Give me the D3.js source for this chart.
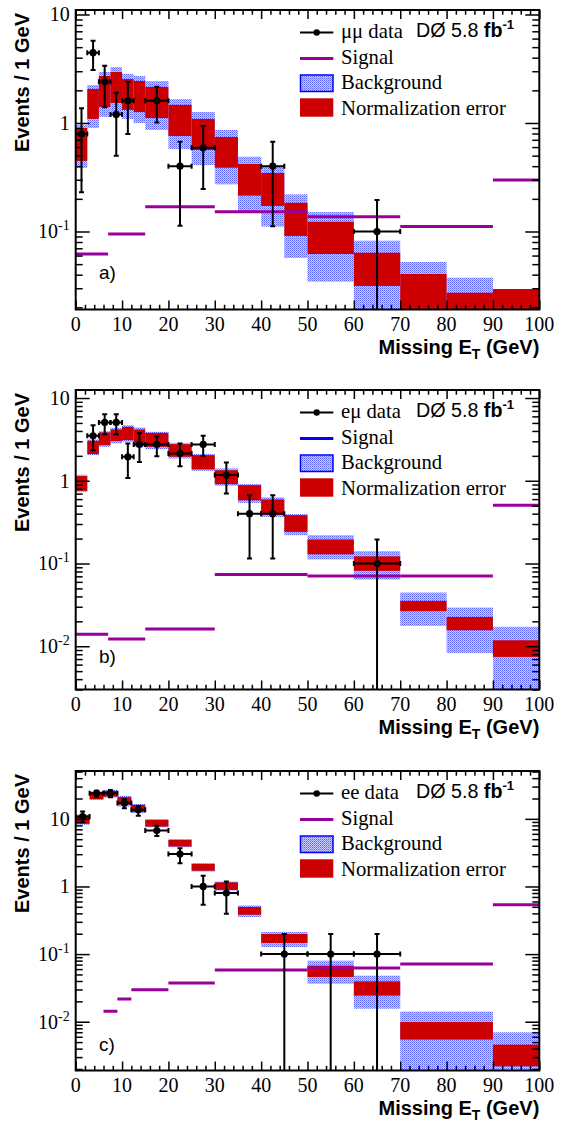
<!DOCTYPE html>
<html><head><meta charset="utf-8">
<script src="https://cdn.jsdelivr.net/npm/d3@7"></script>
<style>body{margin:0;background:#fff} svg{display:block}</style>
</head><body><svg id="chart" width="562" height="1123"></svg>
<script>
// ================= DATA =================
const xTickLabels = [0,10,20,30,40,50,60,70,80,90,100];
const panelLabels = ["a)", "b)", "c)"];
const dataLabels = ["\u03bc\u03bc data", "e\u03bc data", "ee data"];
const lumiText = ["D\u00d8 5.8 ", "fb", "-1"];

// panel a : mu mu
const yRangeA = [0.0191, 11];
const bgEdgesA = [0,2.5,5,7.5,10,12.5,15,20,25,30,35,40,45,50,60,70,80,90,100];
const bgHiA   = [0.958,2.24,2.95,3.28,2.83,2.71,2.44,1.66,1.26,0.862,0.489,0.396,0.22,0.151,0.0823,0.0524,0.0375,0.028];
const bgLoA   = [0.385,0.90,1.14,1.18,1.09,1.00,0.862,0.576,0.41,0.272,0.148,0.111,0.057,0.0345,0.001,0.001,0.001,0.001];
const normHiA = [0.90,2.06,2.71,2.95,2.54,2.44,2.15,1.47,1.09,0.743,0.419,0.346,0.184,0.123,0.0638,0.0406,0.0273,0.0295];
const normLoA = [0.447,1.09,1.40,1.53,1.32,1.26,1.11,0.759,0.564,0.387,0.214,0.172,0.091,0.062,0.0315,0.001,0.001,0.001];
const dataXLoA = [0,2.5,5,7.5,10,15,20,25,40,60];
const dataXHiA = [2.5,5,7.5,10,12.5,20,25,30,45,70];
const dataYA   = [0.79,4.45,2.40,1.20,1.60,1.60,0.40,0.59,0.40,0.10];
const dataHiA  = [1.37,5.74,3.37,1.90,2.40,2.16,0.67,0.94,0.67,0.195];
const dataLoA  = [0.23,3.08,1.40,0.50,0.79,1.01,0.113,0.246,0.112,0.0001];
const sigEdgesA = [0,7,15,30,50,70,90,100];
const sigA      = [0.062,0.095,0.169,0.152,0.137,0.111,0.298];

// panel b : e mu
const yRangeB = [0.003, 12.5];
const bgEdgesB = [0,2.5,5,7.5,10,12.5,15,20,25,30,35,40,45,50,60,70,80,90,100];
const bgHiB   = [1.18,3.16,3.98,4.36,4.70,4.40,3.90,2.87,2.10,1.41,0.91,0.63,0.395,0.22,0.141,0.0446,0.0294,0.0172];
const bgLoB   = [0.73,2.04,2.57,2.83,2.95,2.55,2.41,1.86,1.32,0.87,0.54,0.366,0.22,0.112,0.064,0.0176,0.0083,0.0001];
const normHiB = [1.14,3.04,3.84,4.17,4.49,4.17,3.79,2.77,2.04,1.34,0.885,0.594,0.384,0.195,0.122,0.0353,0.0226,0.0118];
const normLoB = [0.755,2.10,2.69,3.01,3.10,2.69,2.57,1.95,1.37,0.91,0.58,0.391,0.241,0.129,0.0814,0.0265,0.0156,0.00743];
const dataXLoB = [2.5,5,7.5,10,12.5,15,20,25,30,35,40,60];
const dataXHiB = [5,7.5,10,12.5,15,20,25,30,35,40,45,70];
const dataYB   = [3.49,5.07,5.07,1.95,2.75,2.75,2.14,2.75,1.17,0.40,0.40,0.10];
const dataHiB  = [4.70,6.38,6.38,2.83,3.79,3.46,2.83,3.49,1.66,0.67,0.67,0.195];
const dataLoB  = [2.34,3.66,3.66,1.08,1.69,1.98,1.50,1.98,0.70,0.115,0.115,0.0001];
const sigEdgesB = [0,7,15,30,50,70,90,100];
const sigB      = [0.014,0.0122,0.0162,0.0736,0.0708,0.0708,0.507];

// panel c : e e
const yRangeC = [0.0019, 51];
const bgEdgesC = [0,3,6,9,12,15,20,25,30,35,40,50,60,70,90,100];
const bgHiC   = [11.5,25.5,26.8,21.9,16.6,9.9,5.0,2.22,1.18,0.524,0.212,0.080,0.048,0.0141,0.00697];
const bgLoC   = [8.2,19.0,20.6,15.2,12.2,7.5,3.82,1.66,0.87,0.353,0.127,0.0365,0.0156,0.0005,0.0005];
const normHiC = [11.2,24.8,25.9,21.0,16.1,9.67,4.90,2.16,1.15,0.497,0.198,0.0674,0.0395,0.0099,0.00459];
const normLoC = [8.44,19.5,21.3,16.1,12.6,7.69,3.90,1.71,0.89,0.382,0.146,0.0459,0.0243,0.00544,0.00219];
const dataXLoC = [0,3,6,9,12,15,20,25,30,40,50,60];
const dataXHiC = [3,6,9,12,15,20,25,30,35,50,60,70];
const dataYC   = [10.8,24.0,24.0,17.1,13.6,6.71,3.01,1.0,0.80,0.1,0.1,0.1];
const dataHiC  = [12.8,26.1,26.8,19.5,15.5,7.9,3.69,1.44,1.18,0.198,0.198,0.198];
const dataLoC  = [8.9,21.3,20.8,14.4,11.1,5.6,2.21,0.537,0.395,0.0001,0.0001,0.0001];
const sigEdgesC = [6,9,12,20,30,50,70,90,100];
const sigC      = [0.0143,0.0217,0.0298,0.0374,0.0582,0.0623,0.0714,0.537];

// ================= LAYOUT / STYLE =================
const RED = "#cc0000", PURPLE = "#990099", BLUE = "#0000ff";
const SERIF = "Liberation Serif";
const SANS = "Liberation Sans";
const plotL = 75.7, plotR = 539.3;
const panels = [
  {top:10,  bottom:309.5, yr:yRangeA, bgE:bgEdgesA, bgHi:bgHiA, bgLo:bgLoA, nHi:normHiA, nLo:normLoA,
   dxl:dataXLoA, dxh:dataXHiA, dy:dataYA, dhi:dataHiA, dlo:dataLoA, sE:sigEdgesA, s:sigA, sigLeg:PURPLE, labOff:30.2},
  {top:390, bottom:689.5, yr:yRangeB, bgE:bgEdgesB, bgHi:bgHiB, bgLo:bgLoB, nHi:normHiB, nLo:normLoB,
   dxl:dataXLoB, dxh:dataXHiB, dy:dataYB, dhi:dataHiB, dlo:dataLoB, sE:sigEdgesB, s:sigB, sigLeg:BLUE, labOff:26.8},
  {top:771, bottom:1070.5, yr:yRangeC, bgE:bgEdgesC, bgHi:bgHiC, bgLo:bgLoC, nHi:normHiC, nLo:normLoC,
   dxl:dataXLoC, dxh:dataXHiC, dy:dataYC, dhi:dataHiC, dlo:dataLoC, sE:sigEdgesC, s:sigC, sigLeg:PURPLE, labOff:19.5}
];

const svg = d3.select("#chart");
const defs = svg.append("defs");
const pat = defs.append("pattern").attr("id","bgpat").attr("patternUnits","userSpaceOnUse")
  .attr("width",2).attr("height",2);
pat.append("rect").attr("width",2).attr("height",2).attr("fill","#c9ccff");
pat.append("rect").attr("width",1).attr("height",1).attr("fill","#5b63ff");
pat.append("rect").attr("x",1).attr("y",1).attr("width",1).attr("height",1).attr("fill","#8a90ff");

const x = d3.scaleLinear().domain([0,100]).range([plotL, plotR]);

panels.forEach((p, pi) => {
  const y = d3.scaleLog().domain(p.yr).range([p.bottom, p.top]);
  const g = svg.append("g");
  const cid = "clip"+pi;
  defs.append("clipPath").attr("id",cid).append("rect")
    .attr("x",plotL).attr("y",p.top).attr("width",plotR-plotL).attr("height",p.bottom-p.top);
  const cg = g.append("g").attr("clip-path",`url(#${cid})`);
  const yc = v => y(Math.max(v, p.yr[0]*0.1));

  const bins = d3.range(p.bgHi.length);
  cg.selectAll("rect.bg").data(bins).join("rect").attr("class","bg")
    .attr("x", i => x(p.bgE[i])).attr("width", i => x(p.bgE[i+1]) - x(p.bgE[i]))
    .attr("y", i => yc(p.bgHi[i])).attr("height", i => yc(p.bgLo[i]) - yc(p.bgHi[i]))
    .attr("fill","url(#bgpat)");
  cg.selectAll("rect.nm").data(bins).join("rect").attr("class","nm")
    .attr("x", i => x(p.bgE[i])).attr("width", i => x(p.bgE[i+1]) - x(p.bgE[i]))
    .attr("y", i => yc(p.nHi[i])).attr("height", i => yc(p.nLo[i]) - yc(p.nHi[i]))
    .attr("fill",RED);
  cg.selectAll("line.sig").data(d3.range(p.s.length)).join("line").attr("class","sig")
    .attr("x1", i => x(p.sE[i])).attr("x2", i => x(p.sE[i+1]))
    .attr("y1", i => y(p.s[i])).attr("y2", i => y(p.s[i]))
    .attr("stroke",PURPLE).attr("stroke-width",3);
  const di = d3.range(p.dy.length);
  const dg = cg.append("g").attr("stroke","#000").attr("stroke-width",2);
  const cx = i => x((p.dxl[i]+p.dxh[i])/2);
  dg.selectAll("line.ev").data(di).join("line")
    .attr("x1",cx).attr("x2",cx).attr("y1",i=>yc(p.dhi[i])).attr("y2",i=>yc(p.dlo[i]));
  dg.selectAll("line.eh").data(di).join("line")
    .attr("x1",i=>x(p.dxl[i])).attr("x2",i=>x(p.dxh[i])).attr("y1",i=>y(p.dy[i])).attr("y2",i=>y(p.dy[i]));
  const cap = 2.5;
  dg.selectAll("line.ct").data(di).join("line")
    .attr("x1",i=>cx(i)-cap).attr("x2",i=>cx(i)+cap).attr("y1",i=>yc(p.dhi[i])).attr("y2",i=>yc(p.dhi[i]));
  dg.selectAll("line.cb").data(di).join("line")
    .attr("x1",i=>cx(i)-cap).attr("x2",i=>cx(i)+cap).attr("y1",i=>yc(p.dlo[i])).attr("y2",i=>yc(p.dlo[i]));
  dg.selectAll("line.cl").data(di).join("line")
    .attr("x1",i=>x(p.dxl[i])).attr("x2",i=>x(p.dxl[i])).attr("y1",i=>y(p.dy[i])-cap).attr("y2",i=>y(p.dy[i])+cap);
  dg.selectAll("line.cr").data(di).join("line")
    .attr("x1",i=>x(p.dxh[i])).attr("x2",i=>x(p.dxh[i])).attr("y1",i=>y(p.dy[i])-cap).attr("y2",i=>y(p.dy[i])+cap);
  cg.selectAll("circle.pt").data(di).join("circle")
    .attr("cx",cx).attr("cy",i=>y(p.dy[i])).attr("r",3.6).attr("fill","#000");

  // ---- axes (d3 axes draw ticks; labels added as serif text from the same scales) ----
  const xMinor = d3.range(0,101,2).filter(v => v % 10 !== 0);
  const lo = Math.floor(Math.log10(p.yr[0])), hi = Math.ceil(Math.log10(p.yr[1]));
  const yMajor = d3.range(lo, hi+1).map(e => Math.pow(10,e)).filter(v => v>=p.yr[0] && v<=p.yr[1]);
  const yMinor = [];
  d3.range(lo, hi+1).forEach(e => d3.range(2,10).forEach(k => { const v = k*Math.pow(10,e); if (v>=p.yr[0] && v<=p.yr[1]) yMinor.push(v); }));
  const clean = s => s.call(a => a.select(".domain").remove())
      .selectAll("line").attr("stroke-width",1.5);
  const addAxis = (axis, tr) => g.append("g").attr("transform",tr).call(axis.tickFormat("")).call(clean);

  addAxis(d3.axisBottom(x).tickValues(xTickLabels).tickSize(-9), `translate(0,${p.bottom})`);
  addAxis(d3.axisBottom(x).tickValues(xMinor).tickSize(-4.7), `translate(0,${p.bottom})`);
  addAxis(d3.axisTop(x).tickValues(xTickLabels).tickSize(-9), `translate(0,${p.top})`);
  addAxis(d3.axisTop(x).tickValues(xMinor).tickSize(-4.7), `translate(0,${p.top})`);
  addAxis(d3.axisLeft(y).tickValues(yMajor).tickSize(-14), `translate(${plotL},0)`);
  addAxis(d3.axisLeft(y).tickValues(yMinor).tickSize(-7), `translate(${plotL},0)`);
  addAxis(d3.axisRight(y).tickValues(yMajor).tickSize(-14), `translate(${plotR},0)`);
  addAxis(d3.axisRight(y).tickValues(yMinor).tickSize(-7), `translate(${plotR},0)`);

  g.append("g").selectAll("text").data(xTickLabels).join("text")
    .attr("x", d => x(d)).attr("y", p.bottom+21).attr("text-anchor","middle")
    .attr("font-family",SERIF).attr("font-size",20).text(d => d);
  const ylab = g.append("g").selectAll("text").data(yMajor).join("text")
    .attr("x", plotL-6).attr("y", d => y(d)+7).attr("text-anchor","end")
    .attr("font-family",SERIF).attr("font-size",20);
  ylab.each(function(d){
    const t = d3.select(this); const e = Math.round(Math.log10(d));
    if (e === 0) t.text("1");
    else if (e === 1) t.text("10");
    else { t.append("tspan").text("10"); t.append("tspan").attr("dy",-8).attr("font-size",14).text(String(e)); }
  });

  g.append("rect").attr("x",plotL).attr("y",p.top).attr("width",plotR-plotL).attr("height",p.bottom-p.top)
    .attr("fill","none").attr("stroke","#000").attr("stroke-width",2);

  g.append("text").attr("transform",`translate(29.3,${p.top+3}) rotate(-90)`).attr("text-anchor","end")
    .attr("font-family",SANS).attr("font-weight","bold").attr("font-size",20).text("Events / 1 GeV");
  const xt = g.append("text").attr("x",plotR).attr("y",p.bottom+44.5).attr("text-anchor","end")
    .attr("font-family",SANS).attr("font-weight","bold").attr("font-size",20);
  xt.append("tspan").text("Missing E");
  xt.append("tspan").attr("dy",4.5).attr("font-size",14).text("T");
  xt.append("tspan").attr("dy",-4.5).text(" (GeV)");

  g.append("text").attr("x",99).attr("y",p.bottom-p.labOff).attr("font-family",SANS).attr("font-size",19).text(panelLabels[pi]);

  const L = g.append("g").attr("transform",`translate(0,${p.top})`);
  L.append("line").attr("x1",300).attr("x2",333.3).attr("y1",22.5).attr("y2",22.5).attr("stroke","#000").attr("stroke-width",2);
  L.append("circle").attr("cx",316.7).attr("cy",22.5).attr("r",3.2).attr("fill","#000");
  L.append("line").attr("x1",300).attr("x2",333.3).attr("y1",48.5).attr("y2",48.5).attr("stroke",p.sigLeg).attr("stroke-width",3);
  L.append("rect").attr("x",300.5).attr("y",65).attr("width",32.5).attr("height",16.5).attr("fill","url(#bgpat)")
    .attr("stroke",BLUE).attr("stroke-width",1.5);
  L.append("rect").attr("x",300).attr("y",88.3).attr("width",33.3).attr("height",18.4).attr("fill",RED);
  const legTexts = [dataLabels[pi], "Signal", "Background", "Normalization error"];
  const legBase = [28.3, 54, 79.3, 104.5];
  legTexts.forEach((t,k) => L.append("text").attr("x",341).attr("y",legBase[k])
    .attr("font-family",SERIF).attr("font-size",20.7).text(t));
  const lt = L.append("text").attr("x",416).attr("y",26.7).attr("font-family",SANS).attr("font-size",19.7);
  lt.append("tspan").text(lumiText[0]);
  lt.append("tspan").attr("font-weight","bold").text(lumiText[1]);
  lt.append("tspan").attr("dy",-8).attr("font-size",13).attr("font-weight","bold").text(lumiText[2]);
});
</script></body></html>
